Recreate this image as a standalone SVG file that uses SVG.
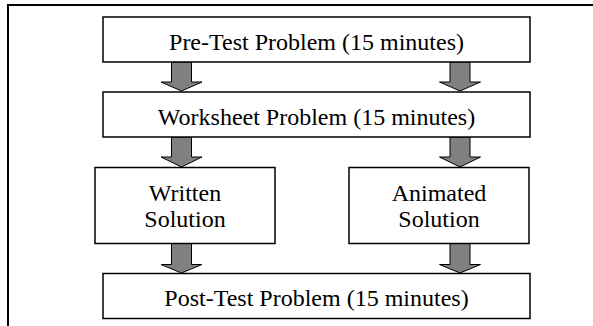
<svg xmlns="http://www.w3.org/2000/svg" width="593" height="326" viewBox="0 0 593 326">
<style>
.box{fill:#fff;stroke:#000;stroke-width:1.5}
.t{font-family:"Liberation Serif","Times New Roman",serif;font-size:24px;fill:#000;text-anchor:middle}
.arr{fill:#808080;stroke:#000;stroke-width:1}
</style>
<rect x="0" y="0" width="593" height="326" fill="#fff"/>
<rect x="8" y="5" width="620" height="360" fill="none" stroke="#000" stroke-width="2"/>
<g id="connectors">
<polygon class="arr" points="171.5,62 191.5,62 191.5,82 202,82 181.5,91 161,82 171.5,82"/>
<polygon class="arr" points="450,62 470,62 470,82 480.5,82 460,91 439.5,82 450,82"/>
<polygon class="arr" points="171.5,137 191.5,137 191.5,157 202,157 181.5,167 161,157 171.5,157"/>
<polygon class="arr" points="450,137 470,137 470,157 480.5,157 460,167 439.5,157 450,157"/>
<polygon class="arr" points="171.5,243.5 191.5,243.5 191.5,264.5 202,264.5 181.5,273 161,264.5 171.5,264.5"/>
<polygon class="arr" points="450,243.5 470,243.5 470,264.5 480.5,264.5 460,273 439.5,264.5 450,264.5"/>
</g>
<g id="pretest">
<rect class="box" x="103" y="17" width="427" height="45"/>
<text class="t" x="316.5" y="50">Pre-Test Problem (15 minutes)</text>
</g>
<g id="worksheet">
<rect class="box" x="103" y="92" width="427" height="45"/>
<text class="t" x="316.5" y="125">Worksheet Problem (15 minutes)</text>
</g>
<g id="written">
<rect class="box" x="95" y="167.5" width="180" height="76"/>
<text class="t" x="185" y="200.5">Written</text>
<text class="t" x="185" y="226.5">Solution</text>
</g>
<g id="animated">
<rect class="box" x="349" y="167.5" width="180" height="76"/>
<text class="t" x="439" y="200.5">Animated</text>
<text class="t" x="439" y="226.5">Solution</text>
</g>
<g id="posttest">
<rect class="box" x="103" y="273.5" width="427" height="45"/>
<text class="t" x="316.5" y="305.5">Post-Test Problem (15 minutes)</text>
</g>
</svg>
